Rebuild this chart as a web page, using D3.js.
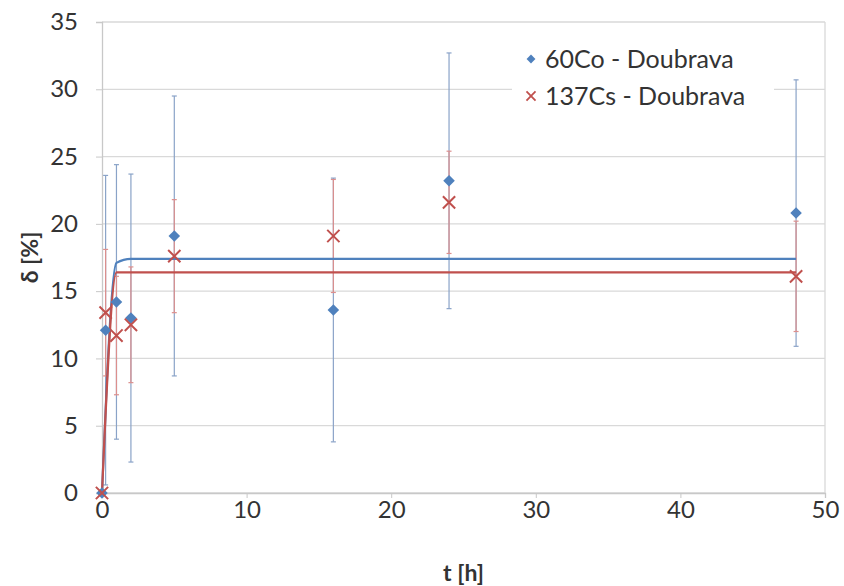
<!DOCTYPE html>
<html><head><meta charset="utf-8">
<script src="https://cdn.jsdelivr.net/npm/d3@7"></script>
<style>body{margin:0;background:#fff}svg{display:block}text{font-family:Lato,"Open Sans",sans-serif;fill:#333}</style>
</head><body><div id="chart"></div>
<script>
const times = [0, 0.25, 1, 2, 5, 16, 24, 48];
const coValues = [0, 12.1, 14.2, 13.0, 19.1, 13.6, 23.2, 20.8];
const coErrors = [0, 11.5, 10.2, 10.7, 10.4, 9.8, 9.5, 9.9];
const csValues = [0, 13.4, 11.7, 12.5, 17.6, 19.1, 21.6, 16.1];
const csErrors = [0, 4.7, 4.4, 4.3, 4.2, 4.2, 3.8, 4.1];
const fitTimes = [0, 1, 2, 5, 16, 24, 48];
const coFit = [0, 17.1, 17.4, 17.4, 17.4, 17.4, 17.4];
const csFit = [0, 16.4, 16.4, 16.4, 16.4, 16.4, 16.4];
const xTicks = [0, 10, 20, 30, 40, 50];
const yTicks = [0, 5, 10, 15, 20, 25, 30, 35];
const seriesNames = ["60Co - Doubrava", "137Cs - Doubrava"];
const axisTitles = {x: "t [h]", y: "δ [%]"};

const W = 844, H = 586;
const m = {l: 102, r: 19, t: 22, b: 93};
const svg = d3.select("#chart").append("svg").attr("width", W).attr("height", H);
const x = d3.scaleLinear().domain([0, 50]).range([m.l, W - m.r]);
const y = d3.scaleLinear().domain([0, 35]).range([H - m.b, m.t]);

const blue = "#4F81BD", red = "#C0504D";
const blueBar = "#8aa3c8", redBar = "#dc8f8d";

// gridlines
svg.append("g").selectAll("line").data(yTicks).join("line")
  .attr("x1", x(0)).attr("x2", x(50)).attr("y1", d => y(d)).attr("y2", d => y(d))
  .attr("stroke", "#d9d9d9").attr("stroke-width", 1.3);
svg.append("line").attr("x1", x(50)).attr("x2", x(50)).attr("y1", y(35)).attr("y2", y(0))
  .attr("stroke", "#d9d9d9").attr("stroke-width", 1.3);

// axes
const yAxis = svg.append("g").attr("transform", `translate(${x(0)},0)`)
  .call(d3.axisLeft(y).tickValues(yTicks).tickSize(6).tickPadding(18));
const xAxis = svg.append("g").attr("transform", `translate(0,${y(0)})`)
  .call(d3.axisBottom(x).tickValues(xTicks).tickSize(5).tickPadding(3));
[yAxis, xAxis].forEach(g => {
  g.select(".domain").attr("stroke", "#c8c8c8").attr("stroke-width", 1.3);
  g.selectAll(".tick line").attr("stroke", "#c8c8c8");
  g.selectAll(".tick text").style("font-size", "24px").style("font-family", "Lato").attr("fill", "#333");
});

// error bars
function errorBars(vals, errs, color) {
  const g = svg.append("g").attr("stroke", color).attr("stroke-width", 1.2).attr("fill", "none");
  times.forEach((t, i) => {
    if (!errs[i]) return;
    const cx = x(t), y1 = y(vals[i] + errs[i]), y2 = y(vals[i] - errs[i]);
    g.append("line").attr("x1", cx).attr("x2", cx).attr("y1", y1).attr("y2", y2);
    g.append("line").attr("x1", cx - 2.5).attr("x2", cx + 2.5).attr("y1", y1).attr("y2", y1);
    g.append("line").attr("x1", cx - 2.5).attr("x2", cx + 2.5).attr("y1", y2).attr("y2", y2);
  });
}
errorBars(coValues, coErrors, blueBar);
errorBars(csValues, csErrors, redBar);

// fit lines
const line = d3.line().x((d, i) => x(fitTimes[i])).y(d => y(d)).curve(d3.curveMonotoneX);
svg.append("path").datum(coFit).attr("d", line).attr("fill", "none").attr("stroke", blue).attr("stroke-width", 2.2);
svg.append("path").datum(csFit).attr("d", line).attr("fill", "none").attr("stroke", red).attr("stroke-width", 2.2);

// markers
const diamond = d3.symbol().type(d3.symbolDiamond2).size(85);
svg.append("g").selectAll("path").data(coValues).join("path")
  .attr("d", diamond).attr("transform", (d, i) => `translate(${x(times[i])},${y(d)})`)
  .attr("fill", blue);
const cross = d3.symbol().type(d3.symbolTimes).size(100);
svg.append("g").selectAll("path").data(csValues).join("path")
  .attr("d", cross).attr("transform", (d, i) => `translate(${x(times[i])},${y(d)})`)
  .attr("fill", "none").attr("stroke", red).attr("stroke-width", 2);

// legend
const lg = svg.append("g");
lg.append("rect").attr("x", 512).attr("y", 36).attr("width", 262).attr("height", 80).attr("fill", "#fff");
lg.append("path").attr("d", d3.symbol().type(d3.symbolDiamond2).size(50)())
  .attr("transform", "translate(531,59)").attr("fill", blue);
lg.append("path").attr("d", d3.symbol().type(d3.symbolTimes).size(55)())
  .attr("transform", "translate(531,96)").attr("fill", "none").attr("stroke", red).attr("stroke-width", 1.8);
lg.selectAll("text").data(seriesNames).join("text")
  .attr("x", 545).attr("y", (d, i) => 68 + i * 37).style("font-size", "25px").text(d => d);

// axis titles
svg.append("text").attr("x", (x(0) + x(50)) / 2).attr("y", 581).attr("text-anchor", "middle")
  .style("font-size", "23px").style("font-weight", "bold").text(axisTitles.x);
svg.append("text").attr("transform", `translate(38,${y(17.5)}) rotate(-90)`).attr("text-anchor", "middle")
  .style("font-size", "23px").style("font-weight", "bold").text(axisTitles.y);
</script></body></html>
